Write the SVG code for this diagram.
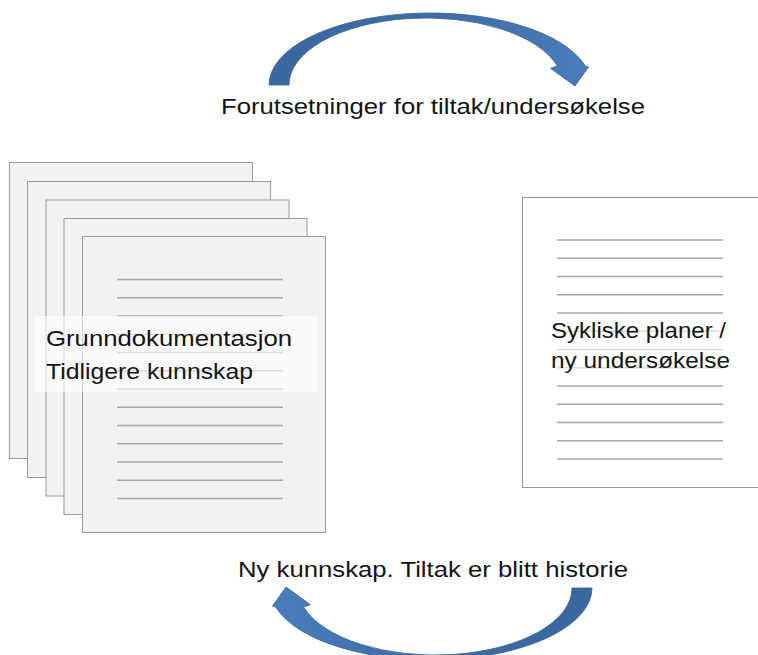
<svg xmlns="http://www.w3.org/2000/svg" width="758" height="655" viewBox="0 0 758 655">
  <style>
    .page { fill: #f2f2f2; stroke: #9a9a9a; stroke-width: 1; }
    .page-white { fill: #ffffff; stroke: #9a9a9a; stroke-width: 1; }
    .rule { stroke: #a8a8a8; stroke-width: 1.5; }
    .veil { fill: #ffffff; fill-opacity: 0.6; }
    .label { font-family: "Liberation Sans", Arial, sans-serif; font-size: 22px; fill: #141414; }
    .arrow { fill: url(#arrowFill); stroke: #36628f; stroke-width: 0.8; stroke-linejoin: miter; }
  </style>
  <defs>
    <linearGradient id="arrowFill" x1="0" y1="0" x2="1" y2="0">
      <stop offset="0" stop-color="#3a679f"/>
      <stop offset="0.55" stop-color="#3e6da7"/>
      <stop offset="1" stop-color="#4b7dbd"/>
    </linearGradient>
    <!-- one set of ruled lines, 13 rows, 18.25px apart -->
    <g id="rules">
      <line class="rule" x1="0" y1="0" x2="166" y2="0"/>
      <line class="rule" x1="0" y1="18.25" x2="166" y2="18.25"/>
      <line class="rule" x1="0" y1="36.5" x2="166" y2="36.5"/>
      <line class="rule" x1="0" y1="54.75" x2="166" y2="54.75"/>
      <line class="rule" x1="0" y1="73" x2="166" y2="73"/>
      <line class="rule" x1="0" y1="91.25" x2="166" y2="91.25"/>
      <line class="rule" x1="0" y1="109.5" x2="166" y2="109.5"/>
      <line class="rule" x1="0" y1="127.75" x2="166" y2="127.75"/>
      <line class="rule" x1="0" y1="146" x2="166" y2="146"/>
      <line class="rule" x1="0" y1="164.25" x2="166" y2="164.25"/>
      <line class="rule" x1="0" y1="182.5" x2="166" y2="182.5"/>
      <line class="rule" x1="0" y1="200.75" x2="166" y2="200.75"/>
      <line class="rule" x1="0" y1="219" x2="166" y2="219"/>
    </g>
  </defs>

  <rect width="758" height="655" fill="#ffffff"/>

  <!-- stack of base documents -->
  <g id="grunndokumentasjon">
    <rect class="page" x="9.5" y="162.5" width="243" height="296"/>
    <rect class="page" x="27.5" y="181.5" width="243" height="296"/>
    <rect class="page" x="46" y="200" width="243" height="296"/>
    <rect class="page" x="64" y="218.5" width="243" height="296"/>
    <rect class="page" x="82.5" y="236.5" width="243" height="296"/>
    <use href="#rules" x="117" y="279.5"/>
    <rect class="veil" x="35" y="316" width="282" height="76"/>
    <text class="label" x="46" y="346" textLength="246" lengthAdjust="spacingAndGlyphs">Grunndokumentasjon</text>
    <text class="label" x="46" y="379" textLength="207" lengthAdjust="spacingAndGlyphs">Tidligere kunnskap</text>
  </g>

  <!-- cyclic plan document -->
  <g id="sykliske-planer">
    <rect class="page-white" x="522.5" y="197.5" width="260" height="290"/>
    <use href="#rules" x="557" y="240"/>
    <rect class="veil" x="540" y="318" width="200" height="60" fill-opacity="0.5"/>
    <text class="label" x="551" y="338" textLength="175" lengthAdjust="spacingAndGlyphs">Sykliske planer /</text>
    <text class="label" x="551" y="368" textLength="179" lengthAdjust="spacingAndGlyphs">ny undersøkelse</text>
  </g>

  <!-- curved arrows with their captions -->
  <g id="connectors">
    <path id="arrow-top" class="arrow" d="M269,85 A161,72 0 0 1 585.3,66 L588.5,67 L575,86 L550.5,68.3 L557.4,66 A137,67 0 0 0 289,85 Z"/>
    <path id="arrow-bottom" class="arrow" transform="rotate(180 430.5 336.5)" d="M269,85 A161,72 0 0 1 585.3,66 L588.5,67 L575,86 L550.5,68.3 L557.4,66 A137,67 0 0 0 289,85 Z"/>
    <text class="label" x="221" y="114" textLength="424" lengthAdjust="spacingAndGlyphs">Forutsetninger for tiltak/undersøkelse</text>
    <text class="label" x="238" y="577" textLength="390" lengthAdjust="spacingAndGlyphs">Ny kunnskap. Tiltak er blitt historie</text>
  </g>
</svg>
